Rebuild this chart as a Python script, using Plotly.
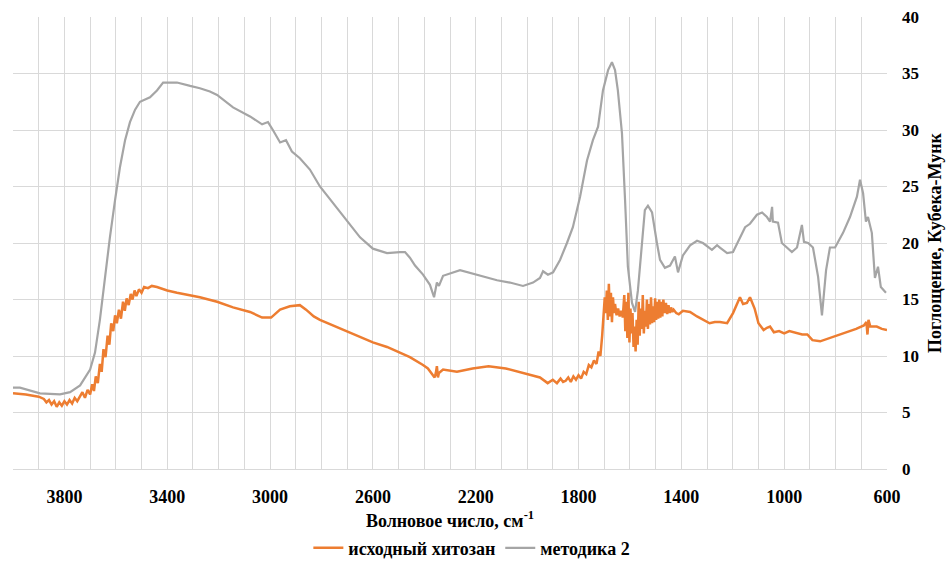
import plotly.graph_objects as go

# ---- data: методика 2 (gray) ----
wn_gray = [4000, 3973, 3895, 3817, 3778, 3739, 3700, 3681, 3662, 3642, 3623, 3603, 3584, 3564,
           3545, 3525, 3506, 3467, 3440, 3416, 3362, 3311, 3273, 3234, 3206, 3144, 3078, 3031,
           3008, 2989, 2961, 2938, 2915, 2884, 2845, 2806, 2755, 2701, 2650, 2600, 2545, 2495,
           2475, 2456, 2436, 2405, 2378, 2362, 2351, 2343, 2327, 2261, 2195, 2117, 2067, 2016,
           1977, 1950, 1938, 1919, 1899, 1872, 1845, 1822, 1794, 1767, 1744, 1724, 1705, 1685,
           1670, 1658, 1647, 1631, 1619, 1608, 1592, 1580, 1569, 1553, 1542, 1530, 1514, 1495,
           1483, 1464, 1444, 1425, 1413, 1394, 1366, 1339, 1316, 1281, 1261, 1250, 1222, 1199,
           1172, 1152, 1133, 1106, 1086, 1067, 1055, 1047, 1044, 1024, 1009, 989, 970, 950,
           931, 923, 907, 888, 868, 853, 837, 822, 802, 771, 744, 717, 705, 693, 682, 674,
           659, 647, 635, 624, 604]
val_gray = [7.2, 7.2, 6.7, 6.6, 6.8, 7.4, 8.8, 10.3, 13.2, 17.0, 20.5, 23.8, 26.7, 29.1,
            30.7, 31.8, 32.5, 32.9, 33.5, 34.2, 34.2, 33.9, 33.7, 33.4, 33.1, 32.0, 31.2, 30.5,
            30.7, 30.0, 28.9, 29.1, 28.1, 27.5, 26.5, 25.0, 23.5, 22.0, 20.5, 19.5, 19.1, 19.2,
            19.2, 18.7, 18.0, 17.2, 16.3, 15.2, 16.5, 16.2, 17.1, 17.6, 17.2, 16.7, 16.5, 16.2,
            16.5, 16.9, 17.5, 17.2, 17.4, 18.5, 20.0, 21.4, 24.1, 27.3, 29.1, 30.3, 33.5, 35.3,
            36.0, 35.3, 33.5, 29.7, 23.8, 17.9, 14.7, 13.9, 15.8, 20.0, 22.9, 23.3, 22.7, 20.0,
            18.5, 17.8, 18.0, 18.8, 17.4, 18.9, 19.8, 20.2, 20.0, 19.4, 19.8, 19.6, 19.1, 19.2,
            20.5, 21.4, 21.7, 22.5, 22.7, 22.3, 21.9, 23.2, 21.9, 21.8, 20.0, 19.6, 19.2, 19.6,
            21.6, 20.1, 20.0, 19.6, 17.0, 13.6, 17.6, 19.6, 19.6, 20.9, 22.3, 24.1, 25.6, 24.4,
            21.9, 22.3, 20.9, 16.9, 17.9, 16.1, 15.6]

# ---- data: исходный хитозан (orange) ----
wn_orange = [4000, 3950, 3900, 3880, 3870, 3860, 3850, 3840, 3830, 3820, 3810, 3800, 3790, 3780,
             3770, 3760, 3750, 3740, 3730, 3720, 3710, 3700, 3692, 3685, 3678, 3670, 3662, 3655,
             3648, 3640, 3632, 3625, 3618, 3610, 3603, 3596, 3588, 3580, 3572, 3565, 3558, 3550,
             3542, 3535, 3527, 3520, 3510, 3500, 3490, 3475, 3460, 3440, 3400, 3362, 3320, 3273,
             3206, 3144, 3078, 3031, 2996, 2961, 2923, 2884, 2860, 2830, 2806, 2755, 2701, 2650,
             2600, 2545, 2495, 2456, 2405, 2386, 2370, 2360, 2355, 2351, 2347, 2343, 2327, 2273,
             2212, 2150, 2083, 2016, 1977, 1950, 1920, 1900, 1884, 1870, 1860, 1850, 1840, 1830,
             1820, 1810, 1800, 1790, 1780, 1770, 1760, 1750, 1740, 1730, 1722, 1715, 1708, 1702,
             1698, 1694, 1690, 1686, 1682, 1678, 1674, 1670, 1666, 1662, 1658, 1652, 1646, 1640,
             1634, 1628, 1622, 1618, 1614, 1610, 1606, 1602, 1598, 1594, 1590, 1586, 1582, 1578,
             1574, 1570, 1566, 1562, 1558, 1554, 1550, 1546, 1542, 1538, 1534, 1530, 1526, 1522,
             1518, 1514, 1510, 1506, 1502, 1498, 1494, 1490, 1486, 1482, 1478, 1474, 1470, 1465,
             1460, 1455, 1450, 1445, 1440, 1435, 1430, 1420, 1410, 1394, 1366, 1339, 1316, 1290,
             1270, 1250, 1222, 1199, 1172, 1160, 1145, 1133, 1115, 1100, 1080, 1067, 1055, 1040,
             1020, 1000, 980, 960, 930, 910, 890, 860, 820, 770, 720, 690, 680, 676, 672, 665,
             640, 620, 600]
val_orange = [6.7, 6.6, 6.4, 6.2, 5.9, 6.1, 5.7, 6.0, 5.5, 5.9, 5.6, 6.0, 5.7, 6.1,
              5.8, 6.3, 6.0, 6.4, 6.8, 6.3, 7.0, 6.6, 7.5, 6.9, 8.2, 7.6, 9.3, 8.6,
              10.6, 9.9, 11.8, 11.0, 12.9, 12.2, 13.6, 12.9, 14.1, 13.3, 14.8, 14.0, 15.1, 14.5,
              15.5, 15.0, 15.8, 15.3, 15.9, 15.6, 16.1, 16.0, 16.2, 16.1, 15.8, 15.6, 15.4, 15.2,
              14.8, 14.3, 13.9, 13.4, 13.4, 14.1, 14.4, 14.5, 14.1, 13.5, 13.2, 12.7, 12.2, 11.7,
              11.2, 10.8, 10.3, 9.9, 9.2, 8.9, 8.4, 8.1, 8.5, 9.1, 8.1, 8.5, 8.8, 8.6,
              8.9, 9.1, 8.9, 8.5, 8.2, 8.1, 7.6, 7.9, 7.6, 8.0, 7.7, 7.8, 8.1, 7.7,
              8.2, 7.9, 8.3, 8.0, 8.6, 8.4, 9.2, 9.0, 9.6, 9.3, 10.4, 10.0, 11.8, 13.5,
              15.2, 13.8, 15.8, 13.2, 16.4, 13.5, 15.6, 13.0, 15.2, 13.8, 14.6, 13.6, 14.2, 13.5,
              14.0, 13.4, 15.4, 12.2, 14.8, 11.6, 15.6, 11.2, 14.2, 12.0, 13.8, 10.8, 12.6, 10.4,
              13.2, 11.0, 14.8, 11.8, 14.2, 12.4, 15.4, 12.0, 14.0, 12.6, 15.0, 12.4, 14.6, 12.8,
              15.2, 12.9, 14.4, 13.0, 15.1, 13.2, 14.8, 13.3, 15.0, 13.4, 14.8, 13.5, 15.0, 13.8,
              14.7, 13.7, 14.5, 13.8, 14.3, 13.9, 14.1, 13.8, 13.7, 14.0, 13.9, 13.5, 13.2, 12.9,
              13.0, 13.0, 12.9, 13.8, 15.2, 14.6, 14.7, 15.2, 14.2, 12.9, 12.3, 12.5, 12.6, 12.1,
              12.2, 12.0, 12.2, 12.1, 11.9, 11.9, 11.4, 11.3, 11.6, 12.0, 12.4, 12.7, 13.0, 11.9,
              13.2, 12.6, 12.6, 12.4, 12.3]

x_tick_vals = [3800, 3400, 3000, 2600, 2200, 1800, 1400, 1000, 600]
y_tick_vals = [0, 5, 10, 15, 20, 25, 30, 35, 40]

FONT = "Liberation Serif"

fig = go.Figure()
fig.add_trace(go.Scatter(x=wn_orange, y=val_orange, mode="lines", name="исходный хитозан",
                         line=dict(color="#ED7D31", width=2.5)))
fig.add_trace(go.Scatter(x=wn_gray, y=val_gray, mode="lines", name="методика 2",
                         line=dict(color="#A5A5A5", width=2.2)))

fig.update_layout(
    template="none",
    width=947, height=563,
    margin=dict(l=13, r=60, t=17, b=94, autoexpand=False),
    paper_bgcolor="white", plot_bgcolor="white",
    font=dict(family=FONT, color="black", size=15),
    showlegend=True,
    legend=dict(orientation="h", x=0.525, xanchor="center", y=-0.175, yanchor="middle",
                font=dict(family=FONT, size=18, color="black", weight="bold"),
                itemwidth=30, tracegroupgap=0),
)
fig.update_xaxes(
    range=[4000, 600], autorange=False, automargin=False,
    tickmode="array", tickvals=x_tick_vals, ticktext=[str(v) for v in x_tick_vals],
    tickfont=dict(family=FONT, size=18, color="black", weight="bold"),
    showgrid=True, gridcolor="#D9D9D9", gridwidth=1,
    minor=dict(dtick=100, tick0=600, showgrid=True, gridcolor="#D9D9D9", gridwidth=1),
    showline=True, linecolor="#D9D9D9", linewidth=1,
    zeroline=False, ticks="", ticklabelstandoff=11,
    title=dict(text="Волновое число, см<sup>-1</sup>", standoff=8,
               font=dict(family=FONT, size=18, color="black", weight="bold")),
)
fig.update_yaxes(
    range=[0, 40], autorange=False, side="right", automargin=False,
    tickmode="array", tickvals=y_tick_vals,
    tickfont=dict(family=FONT, size=17, color="black", weight="bold"),
    showgrid=True, gridcolor="#D9D9D9", gridwidth=1,
    zeroline=False, showline=False, ticks="", ticklabelstandoff=14,
    title=dict(text="Поглощение, Кубека-Мунк", standoff=10,
               font=dict(family=FONT, size=18, color="black", weight="bold")),
)

fig.write_html("out.html")
